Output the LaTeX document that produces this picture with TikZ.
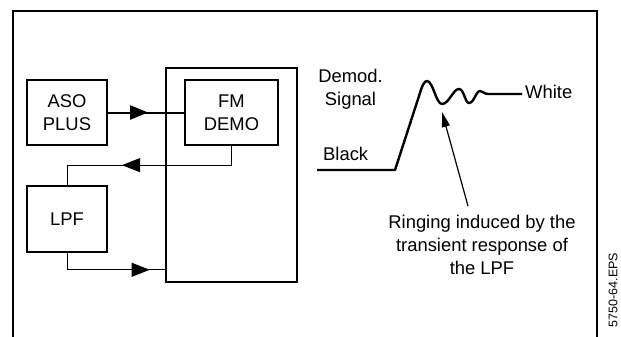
\documentclass[tikz,border=0pt]{standalone}
\usepackage{fontspec}
\setmainfont{Liberation Sans}
\usetikzlibrary{arrows.meta,decorations.markings,positioning}

\begin{document}
\begin{tikzpicture}[
  x=1pt, y=-1pt,
  font=\fontsize{18.4}{23}\selectfont,
  block/.style={draw=black, line width=2.3pt, minimum width=80pt, minimum height=65pt,
    align=center, inner sep=0pt},
  frame/.style={draw=black, line width=1.3pt},
  feed/.style={draw=black, line width=0.9pt},
  bus/.style={draw=black, line width=2pt},
  wave/.style={draw=black, line width=2.4pt, line join=round},
  pointer/.style={-{Triangle[length=15pt,width=8pt]}, draw=black, line width=1.2pt},
  midarrow/.style={postaction={decorate, decoration={markings,
    mark=at position #1 with {\arrow{Triangle[length=18pt,width=14pt]}}}}},
  label/.style={inner sep=0pt, align=center}
]
  \useasboundingbox (0,0) rectangle (621,337);
  \draw[frame] (13,337) -- (13,11) -- (597,11) -- (597,337);

  \node[block, line width=2.6pt, minimum width=131pt, minimum height=214pt] (demod) at (231.5,175) {};
  \node[block] (aso) at (67,112.5) {ASO\\PLUS};
  \node[block, minimum width=93pt] (fm) at (231.5,112.5) {FM\\DEMO};
  \node[block, minimum height=66pt, below=39pt of aso] (lpf) {LPF};

  \draw[bus, midarrow=40pt] (aso) -- (fm);
  \draw[feed, midarrow=128.5pt] (fm.south) -- ++(0,19) -| (lpf.north);
  \draw[feed, midarrow=99pt] (lpf.south) |- ([yshift=13.5pt]demod.south west);

  \draw[wave] (317,170) -- (395,170) -- (419,96)
    .. controls (422,86) and (424,81) .. (427,81)
    .. controls (433,81) and (436,104) .. (442,104)
    .. controls (449,104) and (453,89) .. (459,89)
    .. controls (464,89) and (465,103) .. (469,103)
    .. controls (474,103) and (476,91) .. (480,91)
    .. controls (483,91) and (484,94) .. (488,94) -- (522,94);

  \node[label] (sig) at (350.5,89) {Demod.\\Signal};
  \node[label, anchor=base west] (black) at (323,160) {Black};
  \node[label, anchor=base west] (white) at (525,99) {White};
  \node[label] (ring) at (482,245) {Ringing induced by the\\transient response of\\the LPF};
  \node[label, rotate=90, font=\fontsize{12.5}{14}\selectfont] (eps) at (613,290) {5750-64.EPS};

  \coordinate (tail) at (468,206);
  \coordinate (tip) at (442,112);
  \draw[pointer] (tail) -- (tip);
\end{tikzpicture}
\end{document}
